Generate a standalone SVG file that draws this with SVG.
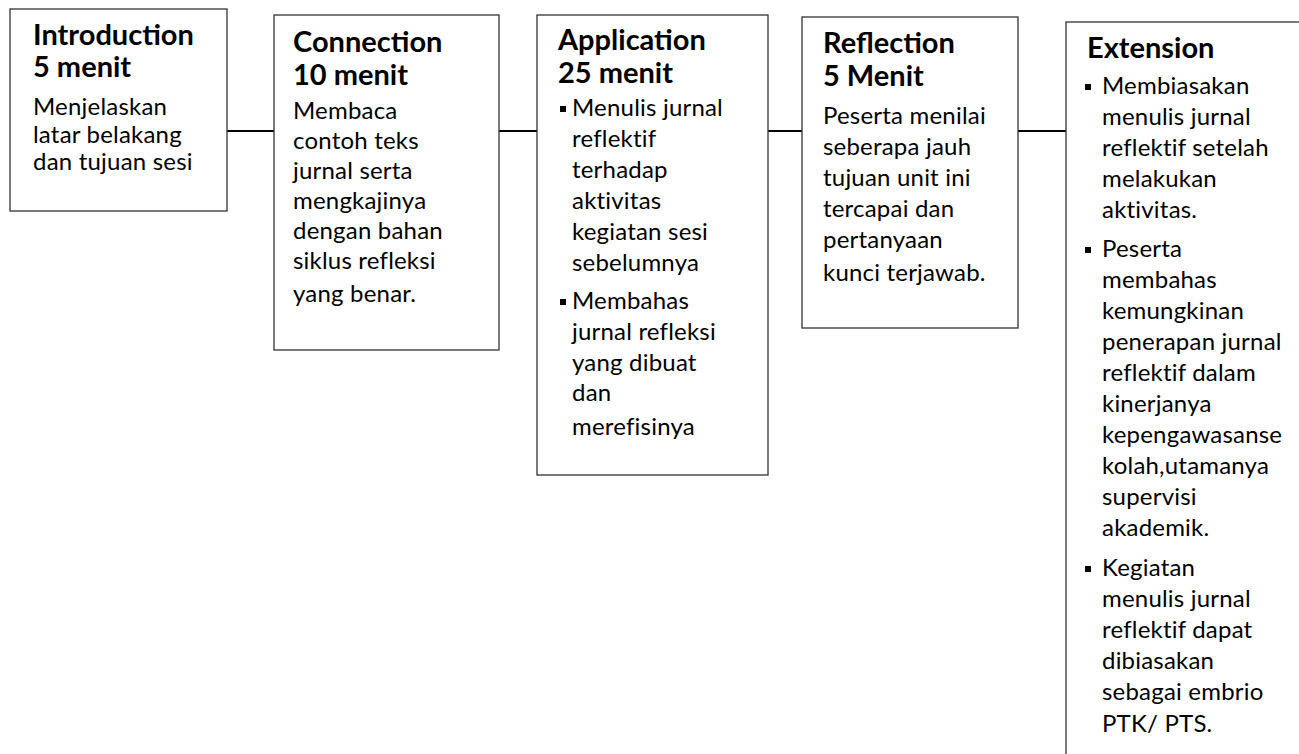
<svg xmlns="http://www.w3.org/2000/svg" width="1299" height="754" viewBox="0 0 1299 754">
<style>
.box{fill:#fff;stroke:#333;stroke-width:1.3}
.t{font-family:Lato,"Liberation Sans",sans-serif;font-weight:bold;font-size:29px;fill:#000}
.b{font-family:Lato,"Liberation Sans",sans-serif;font-size:24px;fill:#000;font-variant-ligatures:none;letter-spacing:0.2px}
.bul{fill:#000}
.con{stroke:#000;stroke-width:2.2;fill:none}
</style>
<rect width="1299" height="754" fill="#fff"/>
<g id="connectors">
<line class="con" x1="227" y1="131" x2="274" y2="131"/>
<line class="con" x1="499" y1="131" x2="537" y2="131"/>
<line class="con" x1="768" y1="131" x2="802" y2="131"/>
<line class="con" x1="1018" y1="131" x2="1066" y2="131"/>
</g>
<g id="introduction">
<rect class="box" x="10" y="9" width="217" height="202"/>
<text class="t" x="33" y="45">Introduction</text>
<text class="t" x="33" y="77">5 menit</text>
<text class="b" x="33" y="115">Menjelaskan</text>
<text class="b" x="33" y="143">latar belakang</text>
<text class="b" x="33" y="170">dan tujuan sesi</text>
</g>
<g id="connection">
<rect class="box" x="274" y="15" width="225" height="335"/>
<text class="t" x="293" y="52">Connection</text>
<text class="t" x="293" y="85">10 menit</text>
<text class="b" x="293" y="119">Membaca</text>
<text class="b" x="293" y="149">contoh teks</text>
<text class="b" x="293" y="179">jurnal serta</text>
<text class="b" x="293" y="209">mengkajinya</text>
<text class="b" x="293" y="239">dengan bahan</text>
<text class="b" x="293" y="269">siklus refleksi</text>
<text class="b" x="293" y="302">yang benar.</text>
</g>
<g id="application">
<rect class="box" x="537" y="15" width="231" height="460"/>
<text class="t" x="558" y="50">Application</text>
<text class="t" x="558" y="83">25 menit</text>
<rect class="bul" x="560" y="106" width="6" height="6"/>
<text class="b" x="572" y="116">Menulis jurnal</text>
<text class="b" x="572" y="147">reflektif</text>
<text class="b" x="572" y="178">terhadap</text>
<text class="b" x="572" y="209">aktivitas</text>
<text class="b" x="572" y="240">kegiatan sesi</text>
<text class="b" x="572" y="271">sebelumnya</text>
<rect class="bul" x="560" y="299" width="6" height="6"/>
<text class="b" x="572" y="309">Membahas</text>
<text class="b" x="572" y="340">jurnal refleksi</text>
<text class="b" x="572" y="371">yang dibuat</text>
<text class="b" x="572" y="401">dan</text>
<text class="b" x="572" y="435">merefisinya</text>
</g>
<g id="reflection">
<rect class="box" x="802" y="17" width="216" height="311"/>
<text class="t" x="823" y="53">Reflection</text>
<text class="t" x="823" y="86">5 Menit</text>
<text class="b" x="823" y="124">Peserta menilai</text>
<text class="b" x="823" y="155">seberapa jauh</text>
<text class="b" x="823" y="186">tujuan unit ini</text>
<text class="b" x="823" y="217">tercapai dan</text>
<text class="b" x="823" y="248">pertanyaan</text>
<text class="b" x="823" y="281">kunci terjawab.</text>
</g>
<g id="extension">
<rect class="box" x="1066" y="22" width="260" height="800"/>
<text class="t" x="1087" y="58">Extension</text>
<rect class="bul" x="1085" y="84" width="6" height="6"/>
<text class="b" x="1102" y="94">Membiasakan</text>
<text class="b" x="1102" y="125">menulis jurnal</text>
<text class="b" x="1102" y="156">reflektif setelah</text>
<text class="b" x="1102" y="187">melakukan</text>
<text class="b" x="1102" y="218">aktivitas.</text>
<rect class="bul" x="1085" y="247" width="6" height="6"/>
<text class="b" x="1102" y="257">Peserta</text>
<text class="b" x="1102" y="288">membahas</text>
<text class="b" x="1102" y="319">kemungkinan</text>
<text class="b" x="1102" y="350">penerapan jurnal</text>
<text class="b" x="1102" y="381">reflektif dalam</text>
<text class="b" x="1102" y="412">kinerjanya</text>
<text class="b" x="1102" y="443">kepengawasanse</text>
<text class="b" x="1102" y="474">kolah,utamanya</text>
<text class="b" x="1102" y="505">supervisi</text>
<text class="b" x="1102" y="536">akademik.</text>
<rect class="bul" x="1085" y="566" width="6" height="6"/>
<text class="b" x="1102" y="576">Kegiatan</text>
<text class="b" x="1102" y="607">menulis jurnal</text>
<text class="b" x="1102" y="638">reflektif dapat</text>
<text class="b" x="1102" y="669">dibiasakan</text>
<text class="b" x="1102" y="700">sebagai embrio</text>
<text class="b" x="1102" y="732">PTK/ PTS.</text>
</g>
</svg>
